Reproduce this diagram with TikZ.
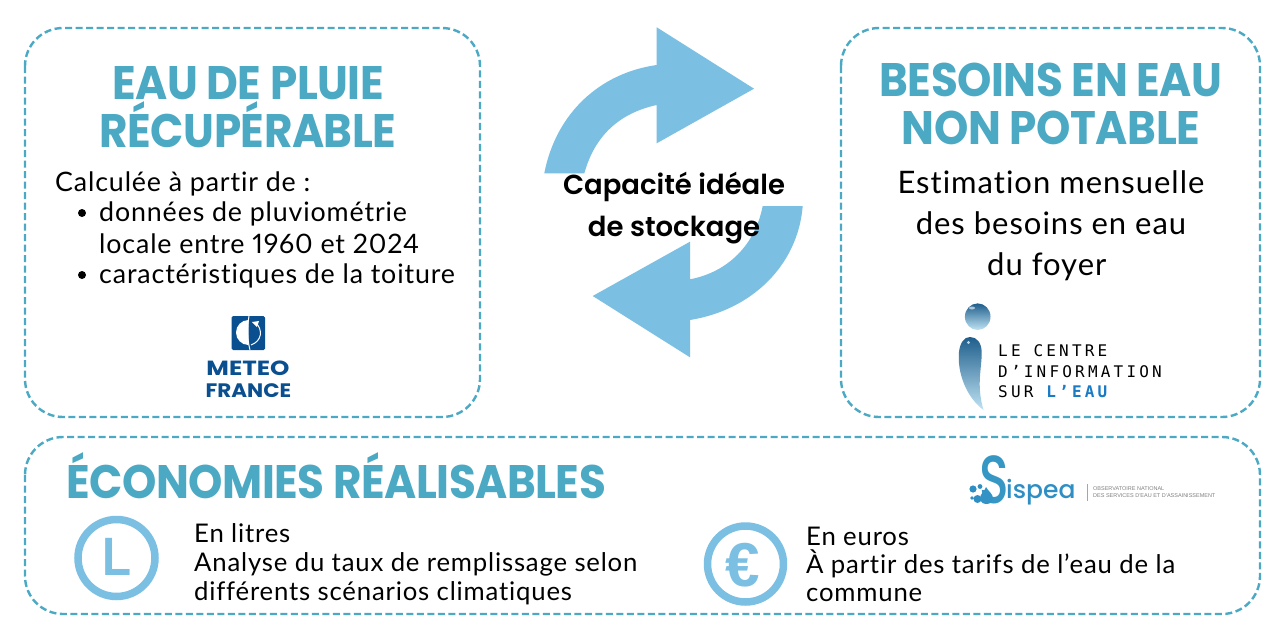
\documentclass[tikz,border=0pt]{standalone}
\usepackage{fontspec}
\setmainfont[LetterSpace=3.2,Ligatures=NoCommon,Numbers=Proportional]{Lato}
\newfontfamily\headfont[FakeStretch=0.93,LetterSpace=-1.0]{Poppins Bold}
\newfontfamily\centerfont{Poppins SemiBold}
\newfontfamily\logofont{Liberation Sans}
\newfontfamily\mflogo{Poppins Bold}
\newfontfamily\spfont{Poppins Medium}
\setmonofont[LetterSpace=20.0]{DejaVu Sans Mono}
\definecolor{teal}{HTML}{4BA9C4}
\definecolor{sky}{HTML}{7BBFE3}
\definecolor{navy}{HTML}{0A4F8F}
\definecolor{sisp}{HTML}{2F8FC4}
\definecolor{ciedark}{HTML}{1F5E8C}
\definecolor{ciemid}{HTML}{3F96C8}
\definecolor{cielight}{HTML}{BFE3F3}
\definecolor{cieblue}{HTML}{1A7BC4}
\tikzset{
  framebox/.style={draw=teal,line width=2.4pt,dash pattern=on 7pt off 3.5pt,rounded corners=38pt},
  headtxt/.style={text=teal,inner sep=0,font=\headfont\fontsize{47}{47}\selectfont},
  bodytxt/.style={text=black,inner sep=0,font=\fontsize{25.7}{25.7}\selectfont},
  lefttxt/.style={bodytxt,font=\fontsize{26.8}{26.8}\selectfont},
  righttxt/.style={bodytxt,font=\fontsize{31}{31}\selectfont},
  centertxt/.style={bodytxt,font=\centerfont\fontsize{27.5}{27.5}\selectfont},
  bigarrow/.style={fill=sky,draw=none},
  cietxt/.style={inner sep=0,anchor=base west,font=\ttfamily\fontsize{16}{16}\selectfont},
}
\begin{document}
\begin{tikzpicture}[x=1pt,y=-1pt]
\useasboundingbox (0,0) rectangle (1278,629);
\fill[white] (0,0) rectangle (1278,629);
% frames
\draw[framebox] (25,28) rectangle (480,417);
\draw[framebox] (841,28) rectangle (1260,417);
\draw[framebox] (25,437) rectangle (1260,614);
% arrows
\fill[bigarrow] (544.3,173.3) .. controls (556,113) and (600,73) .. (656.7,65) -- (656.7,27.3) -- (754,88.7) -- (656.7,143.3) -- (656.7,105) .. controls (620,113) and (595,135) .. (584.3,173.3) -- cycle;
\fill[bigarrow] (802.7,206) .. controls (798,265) and (752,310) .. (690,320) -- (690,357.3) -- (592.7,296) -- (690,241.7) -- (690,279.3) .. controls (728,272) and (755,245) .. (762.7,206) -- cycle;
% headings
\node[headtxt,anchor=base] (h1a) at (248,99) {EAU DE PLUIE};
\node[headtxt,anchor=base] (h1b) at (248,147) {RÉCUPÉRABLE};
\node[headtxt,anchor=base] (h2a) at (1051,96) {BESOINS EN EAU};
\node[headtxt,anchor=base] (h2b) at (1051,144) {NON POTABLE};
\node[headtxt,anchor=base west] (h3) at (66,498) {ÉCONOMIES RÉALISABLES};
% left text
\node[lefttxt,anchor=base west] (t1) at (55,191) {Calculée à partir de :};
\fill (82,213) circle (4);
\node[lefttxt,anchor=base west] (t2) at (99,221) {données de pluviométrie};
\node[lefttxt,anchor=base west] (t3) at (99,253) {locale entre 1960 et 2024};
\fill (82,275) circle (4);
\node[lefttxt,anchor=base west] (t4) at (99,283) {caractéristiques de la toiture};
% centre
\node[centertxt,anchor=base] (c1) at (674,194) {Capacité idéale};
\node[centertxt,anchor=base] (c2) at (674,236) {de stockage};
% right text
\node[righttxt,anchor=base] (r1) at (1051,193.5) {Estimation mensuelle};
\node[righttxt,anchor=base] (r2) at (1051,234.5) {des besoins en eau};
\node[righttxt,anchor=base west] (r3) at (987,275.5) {du foyer};
% bottom text
\node[bodytxt,anchor=base west] (b1) at (194,542) {En litres};
\node[bodytxt,anchor=base west] (b2) at (194,571) {Analyse du taux de remplissage selon};
\node[bodytxt,anchor=base west] (b3) at (194,600) {différents scénarios climatiques};
\node[bodytxt,anchor=base west] (b4) at (806,545) {En euros};
\node[bodytxt,anchor=base west] (b5) at (806,573) {À partir des tarifs de l’eau de la};
\node[bodytxt,anchor=base west] (b6) at (806,601) {commune};
% L icon
\draw[sky,line width=7.5pt] (116.5,558) circle (38.5);
\node[inner sep=0,anchor=base,xscale=.88,text=sky,font=\logofont\bfseries\fontsize{54}{54}\selectfont] (licon) at (117,575) {L};
% euro icon
\draw[sky,line width=7.5pt] (745.5,564) circle (38);
\node[inner sep=0,anchor=base,text=sky,font=\logofont\bfseries\fontsize{62}{62}\selectfont] (eicon) at (743,586) {€};
% Meteo France logo
\fill[navy,rounded corners=1.5pt] (231.7,316) rectangle (265,350);
\fill[white] (248.5,345) arc (90:270:12.5) -- cycle;
\draw[white,line width=1pt] (249,316) .. controls (247,328) and (247,338) .. (250,350);
\draw[white,line width=1pt] (256,323) .. controls (263,330) and (262,341) .. (251,345);
\fill[white] (252,322) -- (259,321) -- (257,327) -- cycle;
\node[inner sep=0,anchor=base,xscale=1.2,text=navy,font=\mflogo\fontsize{20.5}{20.5}\selectfont] (mf1) at (248,375) {METEO};
\node[inner sep=0,anchor=base,xscale=1.1,text=navy,font=\mflogo\fontsize{19.5}{19.5}\selectfont] (mf2) at (248.5,397) {FRANCE};
% CIE logo
\shade[top color=ciedark,bottom color=cielight] (977.7,316.7) ellipse (12.8 and 13.3);
\fill[white,opacity=.6] (972,308) ellipse (3 and 1.5);
\shade[top color=ciedark,middle color=ciemid,bottom color=cielight] (970,337) .. controls (977,337) and (981.5,343) .. (981.7,352) .. controls (982,368) and (976,385) .. (983.5,410) .. controls (966,397) and (957,372) .. (959,352) .. controls (960,343) and (964,337) .. (970,337) -- cycle;
\fill[white,opacity=.7] (968.5,342.5) circle (1.6);
\node[cietxt] (cie1) at (998,356) {LE CENTRE};
\node[cietxt] (cie2) at (998,377) {D’INFORMATION};
\node[cietxt] (cie3) at (998,397) {SUR \textcolor{cieblue}{\bfseries L’EAU}};
% Sispea logo
\node[inner sep=0,anchor=base west,xscale=.72,font=\spfont\fontsize{68}{68}\selectfont,text=sisp!70!teal] (sis1) at (979,503) {S};
\node[inner sep=0,anchor=base west,font=\spfont\fontsize{25}{25}\selectfont,text=sisp] (sis2) at (1006,498) {ispea};
\draw[gray!70,line width=.6pt] (1087,484) -- (1087,501);
\node[inner sep=0,anchor=base west,text=gray,font=\logofont\fontsize{5.5}{5.5}\selectfont] (sis3) at (1093,490.7) {OBSERVATOIRE NATIONAL};
\node[inner sep=0,anchor=base west,text=gray,font=\logofont\fontsize{5.5}{5.5}\selectfont] (sis4) at (1093,497.7) {DES SERVICES D’EAU ET D’ASSAINISSEMENT};
\fill[sisp] (973,489) circle (3.6) (980,486.5) circle (2.4) (972,498) circle (1.8) (977.5,499) circle (4);
\fill[sisp!85!teal] (986,487) .. controls (988,491) and (993,494) .. (993,498) .. controls (993,506) and (980,506) .. (980,498) .. controls (980,494) and (985,491) .. (986,487) -- cycle;
\end{tikzpicture}
\end{document}
